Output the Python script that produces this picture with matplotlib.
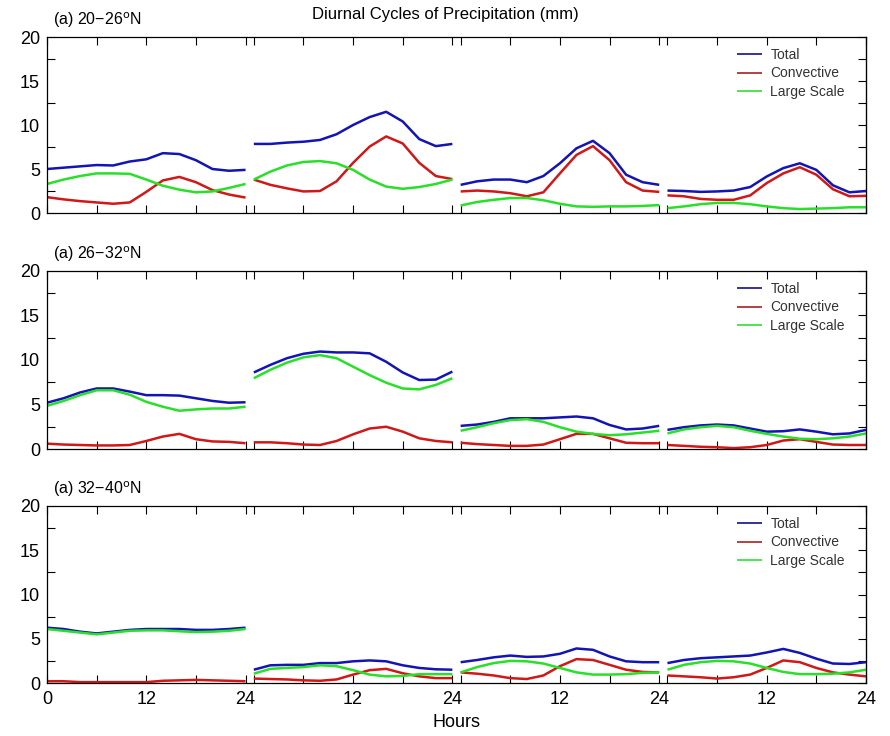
import numpy as np
import matplotlib
matplotlib.use("Agg")
import matplotlib.pyplot as plt

plt.rcParams['font.family'] = ['Liberation Sans', 'DejaVu Sans']

hours = [0, 2, 4, 6, 8, 10, 12, 14, 16, 18, 20, 22, 24]
segment_offsets = [0, 25, 50, 75]
regions = ["20\u221226", "26\u221232", "32\u221240"]
series_names = ["Total", "Convective", "Large Scale"]

# Panel 1 (20-26N): four 24-h segments per series
p1_total = [
    [5.0, 5.15, 5.3, 5.45, 5.4, 5.85, 6.1, 6.8, 6.7, 6.0, 5.0, 4.8, 4.9],
    [7.85, 7.85, 8.0, 8.1, 8.3, 8.95, 10.0, 10.9, 11.5, 10.4, 8.4, 7.6, 7.85],
    [3.2, 3.6, 3.8, 3.8, 3.5, 4.2, 5.65, 7.35, 8.2, 6.8, 4.35, 3.5, 3.2],
    [2.55, 2.5, 2.4, 2.45, 2.55, 2.95, 4.15, 5.1, 5.65, 4.9, 3.15, 2.35, 2.5],
]
p1_conv = [
    [1.8, 1.55, 1.35, 1.2, 1.05, 1.2, 2.4, 3.7, 4.1, 3.5, 2.6, 2.1, 1.75],
    [3.8, 3.2, 2.8, 2.45, 2.5, 3.6, 5.7, 7.55, 8.7, 7.9, 5.7, 4.2, 3.85],
    [2.45, 2.55, 2.45, 2.25, 1.9, 2.35, 4.5, 6.6, 7.6, 6.0, 3.5, 2.55, 2.4],
    [2.0, 1.9, 1.6, 1.5, 1.5, 2.0, 3.4, 4.5, 5.2, 4.35, 2.7, 1.9, 1.95],
]
p1_ls = [
    [3.3, 3.8, 4.2, 4.5, 4.5, 4.45, 3.8, 3.1, 2.65, 2.35, 2.45, 2.85, 3.3],
    [3.8, 4.7, 5.4, 5.8, 5.9, 5.65, 4.9, 3.8, 3.0, 2.75, 2.95, 3.3, 3.8],
    [0.85, 1.25, 1.5, 1.7, 1.7, 1.45, 1.05, 0.75, 0.7, 0.75, 0.75, 0.8, 0.9],
    [0.55, 0.75, 1.0, 1.15, 1.15, 1.0, 0.75, 0.55, 0.45, 0.5, 0.55, 0.65, 0.65],
]

# Panel 2 (26-32N)
p2_total = [
    [5.2, 5.7, 6.35, 6.8, 6.8, 6.45, 6.05, 6.05, 6.0, 5.7, 5.4, 5.2, 5.25],
    [8.6, 9.45, 10.2, 10.7, 10.95, 10.85, 10.85, 10.75, 9.8, 8.6, 7.75, 7.8, 8.7],
    [2.6, 2.75, 3.05, 3.45, 3.45, 3.45, 3.55, 3.65, 3.45, 2.7, 2.2, 2.3, 2.6],
    [2.15, 2.45, 2.65, 2.75, 2.65, 2.3, 1.95, 2.0, 2.2, 1.95, 1.65, 1.75, 2.15],
]
p2_conv = [
    [0.6, 0.5, 0.45, 0.4, 0.4, 0.45, 0.9, 1.4, 1.7, 1.1, 0.85, 0.8, 0.65],
    [0.75, 0.75, 0.65, 0.5, 0.45, 0.9, 1.65, 2.3, 2.5, 1.95, 1.2, 0.9, 0.75],
    [0.7, 0.55, 0.45, 0.35, 0.35, 0.5, 1.1, 1.7, 1.7, 1.2, 0.7, 0.65, 0.65],
    [0.45, 0.35, 0.25, 0.2, 0.1, 0.2, 0.45, 0.95, 1.1, 0.8, 0.5, 0.45, 0.45],
]
p2_ls = [
    [4.85, 5.4, 6.05, 6.6, 6.6, 6.1, 5.3, 4.75, 4.3, 4.45, 4.55, 4.55, 4.75],
    [7.95, 8.9, 9.7, 10.3, 10.55, 10.2, 9.25, 8.3, 7.45, 6.8, 6.7, 7.2, 7.95],
    [2.05, 2.45, 2.9, 3.25, 3.35, 3.05, 2.45, 1.95, 1.7, 1.55, 1.65, 1.85, 2.05],
    [1.75, 2.2, 2.45, 2.6, 2.45, 2.05, 1.7, 1.4, 1.15, 1.1, 1.2, 1.4, 1.75],
]

# Panel 3 (32-40N)
p3_total = [
    [6.25, 6.1, 5.8, 5.6, 5.8, 6.0, 6.1, 6.1, 6.1, 6.0, 6.0, 6.1, 6.25],
    [1.5, 2.0, 2.05, 2.05, 2.25, 2.25, 2.45, 2.55, 2.45, 2.0, 1.7, 1.55, 1.5],
    [2.35, 2.6, 2.9, 3.1, 2.95, 3.0, 3.3, 3.9, 3.75, 3.0, 2.45, 2.35, 2.35],
    [2.25, 2.6, 2.8, 2.9, 3.0, 3.1, 3.45, 3.85, 3.4, 2.75, 2.2, 2.15, 2.35],
]
p3_conv = [
    [0.2, 0.2, 0.1, 0.1, 0.1, 0.1, 0.1, 0.25, 0.3, 0.35, 0.3, 0.25, 0.2],
    [0.5, 0.45, 0.4, 0.3, 0.25, 0.4, 0.95, 1.45, 1.6, 1.1, 0.75, 0.55, 0.55],
    [1.2, 1.05, 0.85, 0.55, 0.45, 0.85, 1.9, 2.7, 2.6, 2.05, 1.5, 1.25, 1.2],
    [0.85, 0.75, 0.65, 0.5, 0.65, 0.95, 1.7, 2.55, 2.35, 1.7, 1.2, 0.95, 0.75],
]
p3_ls = [
    [6.1, 5.9, 5.7, 5.5, 5.7, 5.9, 5.95, 5.95, 5.85, 5.75, 5.8, 5.9, 6.1],
    [1.05, 1.6, 1.7, 1.8, 2.0, 1.9, 1.45, 0.95, 0.75, 0.8, 1.0, 1.0, 1.0],
    [1.2, 1.8, 2.25, 2.5, 2.45, 2.2, 1.7, 1.2, 0.95, 0.95, 1.0, 1.15, 1.2],
    [1.5, 2.05, 2.35, 2.5, 2.45, 2.2, 1.7, 1.25, 1.0, 1.0, 1.05, 1.2, 1.5],
]

panels = [
    (p1_total, p1_conv, p1_ls),
    (p2_total, p2_conv, p2_ls),
    (p3_total, p3_conv, p3_ls),
]

colors = ['#1414b4', '#d01818', '#28e028']
legend_colors = ['#10108c', '#a82020', '#30e030']

W, H = 890, 736
fig = plt.figure(figsize=(W / 100, H / 100), dpi=100)

ax_left = 47 / W
ax_width = 819 / W
axes_px = [(37, 213), (271, 449), (506, 683)]

tick_pos = []
tick_lab = []
for si, off in enumerate(segment_offsets):
    for h in [0, 6, 12, 18, 24]:
        tick_pos.append(off + h)
        if (si == 0 and h in (0, 12, 24)) or (si > 0 and h in (12, 24)):
            tick_lab.append(str(h))
        else:
            tick_lab.append('')

for pi, (top, bot) in enumerate(axes_px):
    ax = fig.add_axes([ax_left, 1 - bot / H, ax_width, (bot - top) / H])
    for k, data in enumerate(panels[pi]):
        for si, off in enumerate(segment_offsets):
            xs = [off + h for h in hours]
            ax.plot(xs, data[si], color=colors[k], lw=1.8,
                    label=series_names[k] if si == 0 else None,
                    solid_capstyle='butt', solid_joinstyle='round')
    ax.set_xlim(0, 99)
    ax.set_ylim(0, 20)
    ax.set_xticks(tick_pos)
    ax.set_xticklabels(tick_lab if pi == 2 else [''] * len(tick_lab))
    ax.tick_params(axis='x', which='major', direction='in', top=True,
                   bottom=True, length=6, width=0.8, labelsize=13, pad=6)
    ax.set_yticks([0, 5, 10, 15, 20])
    ax.set_yticks([2.5, 7.5, 12.5, 17.5], minor=True)
    ax.tick_params(axis='y', which='major', direction='in', left=True,
                   right=False, length=0, labelsize=13, pad=5)
    ax.tick_params(axis='y', which='minor', direction='in', left=True,
                   right=False, length=6, width=0.8)
    sec = ax.secondary_yaxis('right')
    sec.set_yticks(np.arange(0, 20.01, 2.5))
    sec.tick_params(axis='y', direction='in', length=6, width=0.8,
                    labelright=False)
    for sp in ax.spines.values():
        sp.set_linewidth(0.9)
    fig.text(53 / W, 1 - (top - 12) / H,
             "(a) " + regions[pi] + r"$^{\rm o}$N",
             fontsize=11.5, va='baseline', ha='left')
    handles, labels = ax.get_legend_handles_labels()
    leg = ax.legend(handles, labels, loc='upper left',
                    bbox_to_anchor=((737 - 47) / 819, 1 - 11 / (bot - top)),
                    frameon=False, fontsize=10, handlelength=1.8,
                    handletextpad=0.6, labelspacing=0.32, borderpad=0,
                    borderaxespad=0, labelcolor='#333333')
    for lh, c in zip(leg.get_lines(), legend_colors):
        lh.set_color(c)
        lh.set_linewidth(1.2)
    if pi == 2:
        ax.set_xlabel("Hours", fontsize=13, labelpad=4)

fig.text(0.5, 1 - 15 / H, "Diurnal Cycles of Precipitation (mm)",
         fontsize=12, ha='center', va='center')

fig.savefig("out.png", dpi=100)
